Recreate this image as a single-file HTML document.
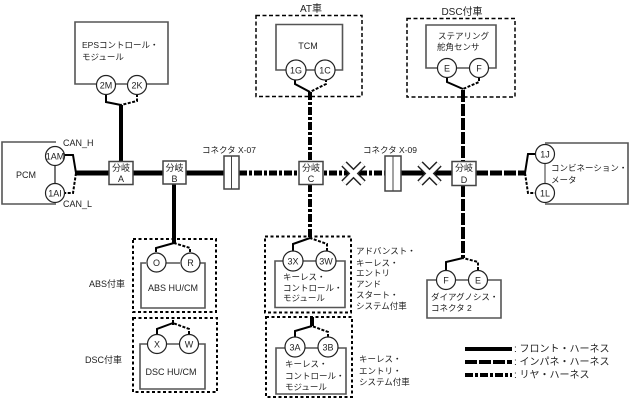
<!DOCTYPE html>
<html><head><meta charset="utf-8">
<style>
html,body{margin:0;padding:0;background:#fff}
svg{display:block}
text{font-family:"Liberation Sans","Noto Sans CJK JP",sans-serif;font-size:9px;fill:#222}
.k{font-size:8.5px}
.l{font-size:10px}
.m{text-anchor:middle}
.b{fill:none;stroke:#555;stroke-width:1.6}
.c{fill:#fff;stroke:#222;stroke-width:1.2}
.g{fill:none;stroke:#000;stroke-width:1.5;stroke-dasharray:4 2.5}
.g2{fill:none;stroke:#000;stroke-width:2;stroke-dasharray:3 2.5}
.w{fill:none;stroke:#000;stroke-width:2}
.d{fill:none;stroke:#000;stroke-width:2;stroke-dasharray:3 1.5}
.f{stroke:#000;stroke-width:4;fill:none}
.i{stroke:#000;stroke-width:4;fill:none;stroke-dasharray:12 2}
.r{stroke:#000;stroke-width:4;fill:none;stroke-dasharray:8 2 3 2}
.h{stroke-width:5}
.n{fill:#fff;stroke:#444;stroke-width:1.5}
</style></head><body>
<svg width="634" height="401" viewBox="0 0 634 401" xmlns="http://www.w3.org/2000/svg">
<!-- harness -->
<line class="f h" x1="76" y1="173" x2="224" y2="173"/>
<line class="f" x1="121" y1="105" x2="121" y2="162"/>
<line class="f" x1="174" y1="184" x2="174" y2="243"/>
<line class="r h" x1="239" y1="173" x2="385" y2="173"/>
<line class="r" x1="310" y1="92" x2="310" y2="161"/>
<line class="r" x1="310" y1="184" x2="310" y2="238"/>
<line class="f h" x1="401" y1="173" x2="452" y2="173"/>
<line class="i h" x1="476" y1="173" x2="526" y2="173"/>
<line class="i" x1="463" y1="90" x2="463" y2="161"/>
<line class="i" x1="463" y1="185" x2="463" y2="258"/>
<line class="f" x1="312" y1="317" x2="312" y2="326"/>
<line class="w" x1="173" y1="320" x2="173" y2="325"/>

<!-- EPS -->
<path class="b" d="M96 84H75V22H168V84H146M116 84H127"/>
<text x="82" y="48" class="k">EPSコントロール・</text>
<text x="82" y="60" class="k">モジュール</text>
<path class="w" d="M106 94V102L121 105"/><path class="d" d="M137 94V101L121 105"/>
<circle class="c" cx="106" cy="85" r="9.5"/><circle class="c" cx="137" cy="85" r="9.5"/>
<text class="m" x="106" y="88.500">2M</text><text class="m" x="137" y="88.500">2K</text>

<!-- PCM -->
<path class="b" d="M56 142H2V204H56M55 165V184"/>
<text x="16" y="178">PCM</text>
<path class="w" d="M64 155H73L76 173"/><path class="d" d="M76 173L73 193H64"/>
<circle class="c" cx="55" cy="156" r="9.500"/><circle class="c" cx="55" cy="193" r="9.500"/>
<text class="m" x="55" y="159.500">1AM</text><text class="m" x="55" y="196.500">1AI</text>
<text x="63" y="146">CAN_H</text><text x="63" y="207">CAN_L</text>

<!-- branch boxes -->
<rect class="n" x="109" y="161.500" width="24" height="23"/>
<text class="m" x="121" y="171">分岐</text><text class="m" x="121" y="182">A</text>
<rect class="n" x="163" y="161" width="23" height="23"/>
<text class="m" x="174.500" y="171">分岐</text><text class="m" x="174.500" y="182">B</text>
<rect class="n" x="299" y="161.500" width="24" height="23"/>
<text class="m" x="311" y="171">分岐</text><text class="m" x="311" y="182">C</text>
<rect class="n" x="452" y="161.500" width="24" height="24"/>
<text class="m" x="464" y="171">分岐</text><text class="m" x="464" y="183">D</text>

<!-- connectors -->
<rect class="n" x="224" y="156" width="15" height="33"/><line x1="231.500" y1="156" x2="231.500" y2="189" stroke="#444"/>
<rect class="n" x="385" y="156" width="16" height="35"/><line x1="393" y1="156" x2="393" y2="191" stroke="#444"/>
<text x="202" y="153" class="k">コネクタ X-07</text>
<text x="363" y="153" class="k">コネクタ X-09</text>

<!-- X marks -->
<g stroke-linecap="butt">
<path d="M344 164L363 183M363 164L344 183" stroke="#222" stroke-width="7.500"/>
<path d="M344 164L363 183M363 164L344 183" stroke="#fff" stroke-width="4.500"/>
<path d="M420 164L439 183M439 164L420 183" stroke="#222" stroke-width="7.500"/>
<path d="M420 164L439 183M439 164L420 183" stroke="#fff" stroke-width="4.500"/>
</g>

<!-- AT -->
<text class="m" x="311" y="12" style="font-size:10px">AT車</text>
<rect class="g" x="256" y="15.500" width="106" height="81"/>
<path class="b" d="M286 70H276V24.500H342.500V70H335M306 70H316"/>
<text class="m" x="308" y="49">TCM</text>
<path class="w" d="M295 79V84L310 92"/><path class="d" d="M326 79V84L310 92"/>
<circle class="c" cx="296" cy="70" r="10"/><circle class="c" cx="325" cy="70" r="10"/>
<text class="m" x="296" y="73.500">1G</text><text class="m" x="325" y="73.500">1C</text>

<!-- DSC steering -->
<text class="m" x="462" y="15" style="font-size:10px">DSC付車</text>
<rect class="g" x="407" y="18.500" width="108" height="78.500"/>
<path class="b" d="M437 68H426V25H496V68H487M457 68H469"/>
<text x="438" y="39" class="k">ステアリング</text>
<text x="437" y="50" class="k">舵角センサ</text>
<path class="w" d="M447 78V82L463 89"/><path class="d" d="M479 78V82L463 89"/>
<circle class="c" cx="447" cy="68" r="9.500"/><circle class="c" cx="479" cy="68" r="9.500"/>
<text class="m" x="447" y="71.500">E</text><text class="m" x="479" y="71.500">F</text>

<!-- Combination meter -->
<path class="b" d="M545 143H628V204H545"/>
<line x1="545" y1="163" x2="545" y2="184" stroke="#333" stroke-width="1"/>
<text x="551" y="171" class="k">コンビネーション・</text>
<text x="551" y="183" class="k">メータ</text>
<path class="w" d="M535 154H528L525 173"/><path class="d" d="M525 173L528 193H535"/>
<circle class="c" cx="545" cy="154" r="9.500"/><circle class="c" cx="545" cy="193" r="9.500"/>
<text class="m" x="545" y="157.500">1J</text><text class="m" x="545" y="196.500">1L</text>

<!-- ABS -->
<text x="89" y="287">ABS付車</text>
<rect class="g2" x="133" y="239" width="83" height="73"/>
<path class="b" d="M146 263H141V308H205V263H200M166 263H180"/>
<text class="m" x="173" y="291">ABS HU/CM</text>
<path class="w" d="M156 252V248L174 243"/><path class="d" d="M190 252V248L174 243"/>
<circle class="c" cx="156.500" cy="262.500" r="9.500"/><circle class="c" cx="190.500" cy="262.500" r="9.500"/>
<text class="m" x="156.500" y="266">O</text><text class="m" x="190.500" y="266">R</text>

<!-- DSC HU -->
<text x="85" y="363">DSC付車</text>
<rect class="g2" x="133" y="318" width="84" height="74"/>
<path class="b" d="M147 344H140V389H205V344H199M167 344H179"/>
<text class="m" x="171" y="375">DSC HU/CM</text>
<path class="w" d="M157 334V329L173 323"/><path class="d" d="M189 334V329L173 323"/>
<circle class="c" cx="157" cy="344" r="9.500"/><circle class="c" cx="189" cy="344" r="9.500"/>
<text class="m" x="157" y="347.500">X</text><text class="m" x="189" y="347.500">W</text>

<!-- Advanced keyless -->
<rect class="g2" x="265" y="236.500" width="86" height="76"/>
<path class="b" d="M283 261H275V307.500H345V261H336M303 261H316"/>
<text x="283" y="280" class="k">キーレス・</text>
<text x="283" y="291" class="k">コントロール・</text>
<text x="283" y="301" class="k">モジュール</text>
<path class="w" d="M293 251V244L310 238"/><path class="d" d="M327 251V244L310 238"/>
<circle class="c" cx="293" cy="261" r="10"/><circle class="c" cx="326" cy="261" r="10"/>
<text class="m" x="293" y="264.500">3X</text><text class="m" x="326" y="264.500">3W</text>
<g class="k">
<text x="356" y="254" class="k">アドバンスト・</text>
<text x="356" y="266" class="k">キーレス・</text>
<text x="356" y="276" class="k">エントリ</text>
<text x="356" y="287" class="k">アンド</text>
<text x="356" y="298" class="k">スタート・</text>
<text x="356" y="309" class="k">システム付車</text>
</g>

<!-- Keyless entry -->
<rect class="g2" x="266" y="317" width="86" height="80"/>
<path class="b" d="M285 348H276V394H346V348H338M305 348H318"/>
<text x="285" y="367" class="k">キーレス・</text>
<text x="285" y="379" class="k">コントロール・</text>
<text x="285" y="390" class="k">モジュール</text>
<path class="w" d="M295 337V331L312 326"/><path class="d" d="M328 337V332L312 326"/>
<circle class="c" cx="295" cy="347" r="10"/><circle class="c" cx="328" cy="347" r="10"/>
<text class="m" x="295" y="350.500">3A</text><text class="m" x="328" y="350.500">3B</text>
<text x="359" y="362" class="k">キーレス・</text>
<text x="359" y="374" class="k">エントリ・</text>
<text x="359" y="385" class="k">システム付車</text>

<!-- Diagnosis -->
<path class="b" d="M436 280H427V318H501V280H488M456 280H468"/>
<text x="431" y="300" class="k">ダイアグノシス・</text>
<text x="431" y="311" class="k">コネクタ 2</text>
<path class="w" d="M446 270V262L463 258"/><path class="d" d="M478 270V262L463 258"/>
<circle class="c" cx="446" cy="280" r="9.500"/><circle class="c" cx="478" cy="280" r="9.500"/>
<text class="m" x="446" y="283.500">F</text><text class="m" x="478" y="283.500">E</text>

<!-- Legend -->
<line class="f" x1="465" y1="349" x2="512" y2="349"/>
<line class="i" x1="465" y1="362" x2="512" y2="362"/>
<line class="r" x1="465" y1="375" x2="512" y2="375"/>
<text x="514" y="352" class="l">: フロント・ハーネス</text>
<text x="514" y="365" class="l">: インパネ・ハーネス</text>
<text x="514" y="378" class="l">: リヤ・ハーネス</text>
</svg>
</body></html>
